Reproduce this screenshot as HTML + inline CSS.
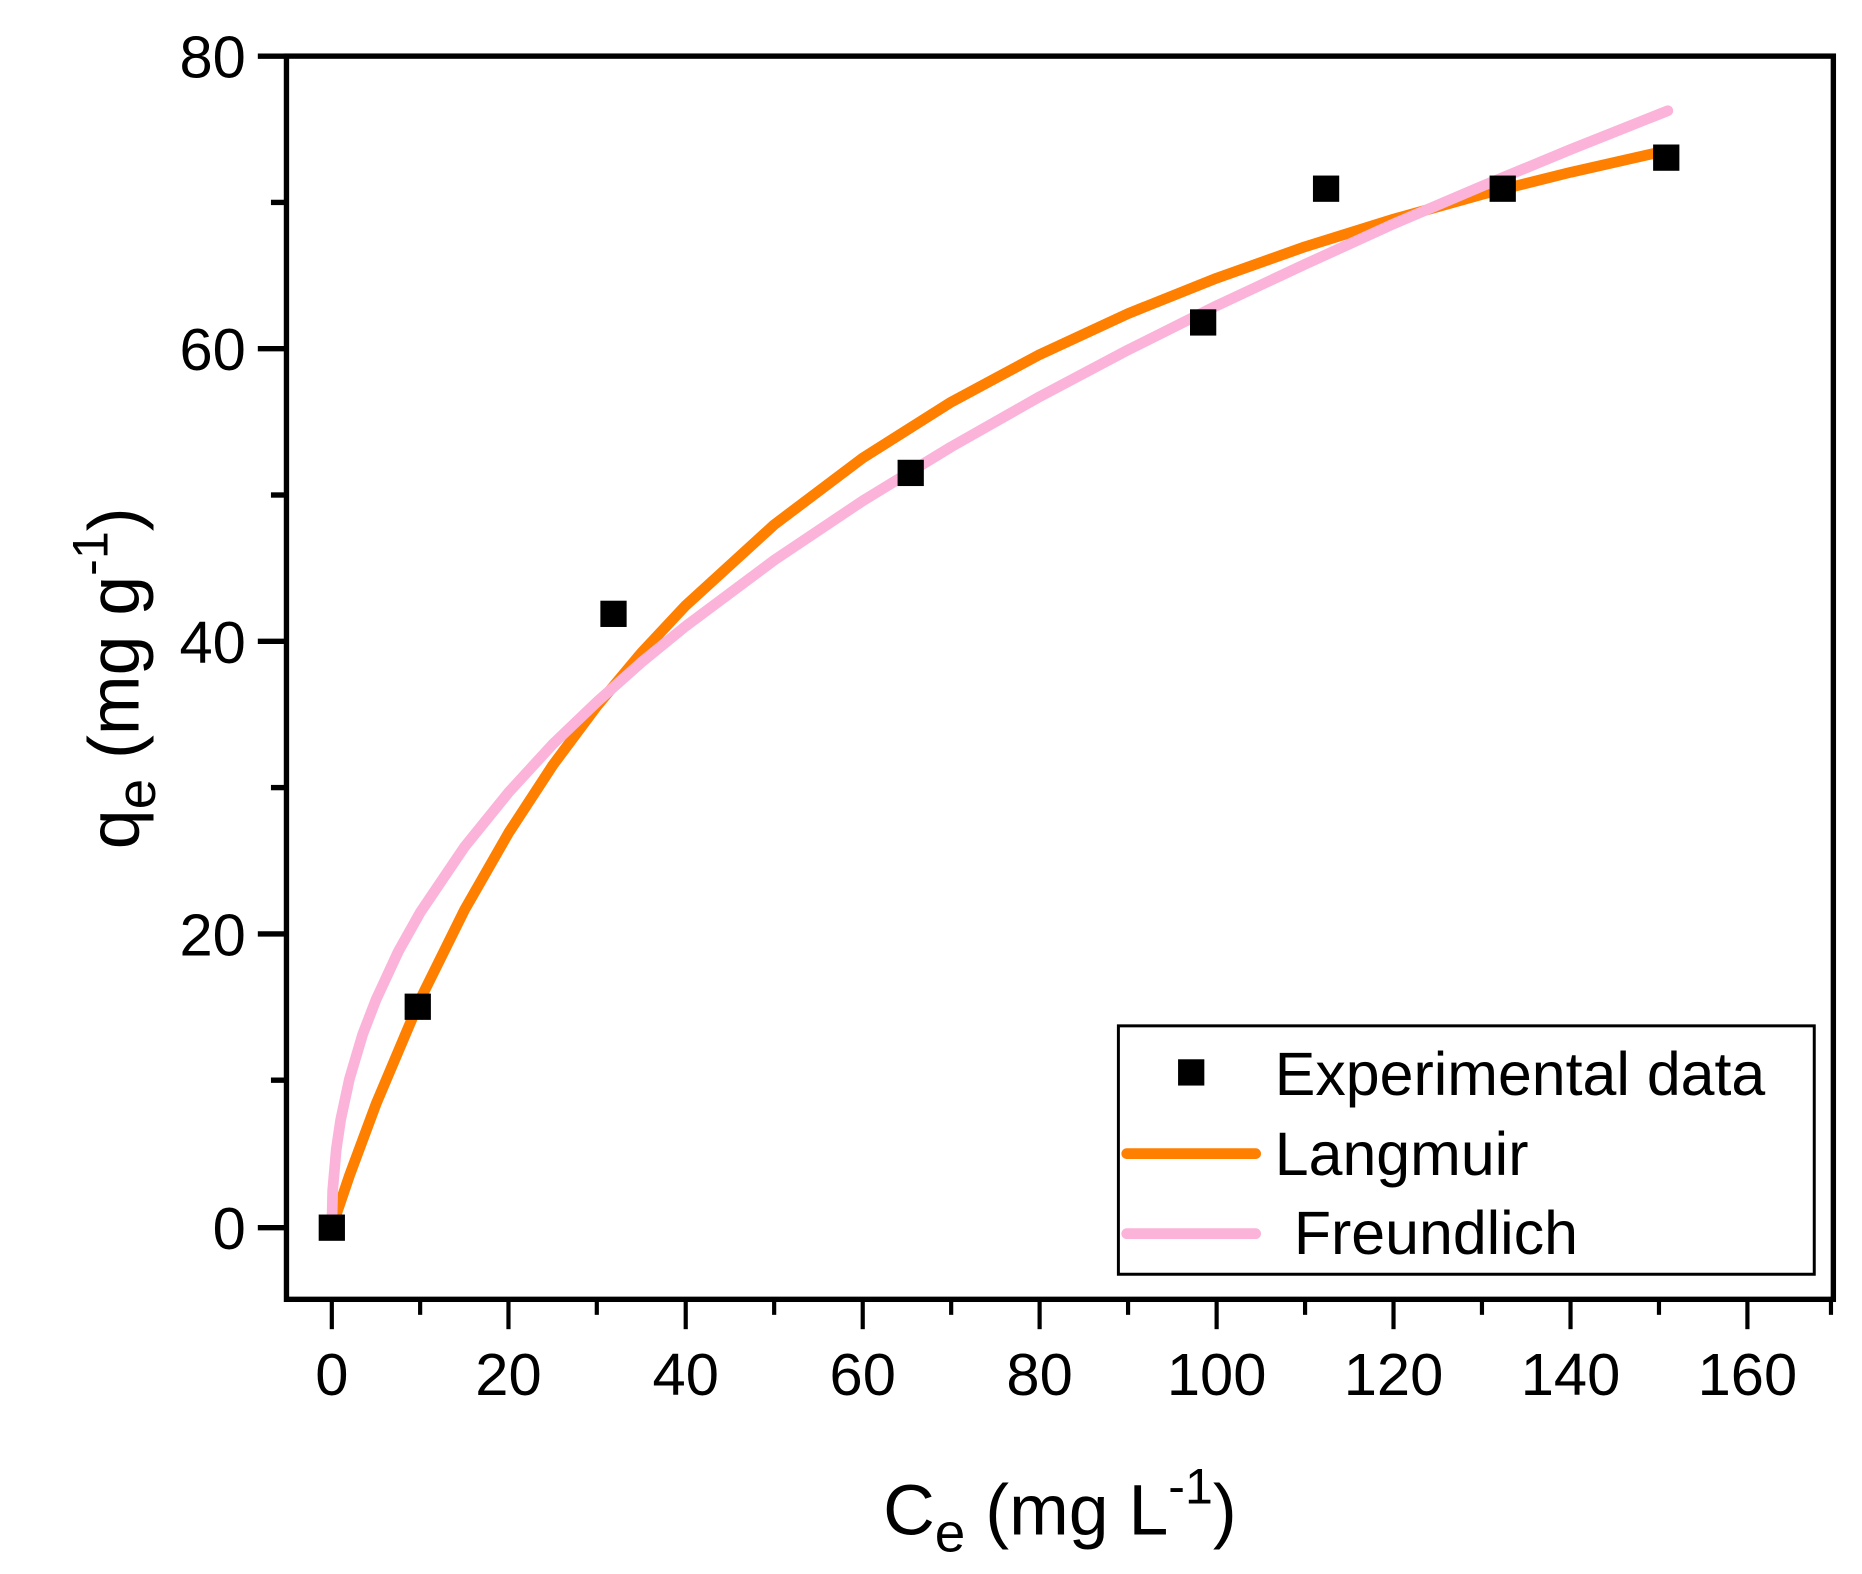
<!DOCTYPE html>
<html><head><style>html,body{margin:0;padding:0;background:#fff;}svg{display:block}</style></head>
<body>
<svg width="1862" height="1574" viewBox="0 0 1560 1318" preserveAspectRatio="none" xmlns="http://www.w3.org/2000/svg" font-family="Liberation Sans, Arial, sans-serif">
<rect x="0" y="0" width="1560" height="1318" fill="#fff"/>
<polyline fill="none" stroke="#FF7F00" stroke-width="9" stroke-linecap="round" stroke-linejoin="round" points="278,1028 292.8,984.3 315.1,924.3 352.1,836.8 389.2,761.9 426.3,697.1 463.3,640.5 500.4,590.8 537.5,546.5 574.5,507 648.6,439.4 722.8,383.5 796.9,336.7 871,296.9 945.1,262.6 1019.3,232.9 1093.4,206.6 1167.5,183.5 1241.6,162.8 1315.8,144.3 1397.3,125.9"/>
<polyline fill="none" stroke="#FBB3DA" stroke-width="9" stroke-linecap="round" stroke-linejoin="round" points="278,1028 278.7,997.1 281.7,962.6 285.4,937.7 292.8,903.3 303.9,866 315.1,836.9 333.6,797 352.1,764 389.2,709.1 426.3,663.3 463.3,623 500.4,587.5 537.5,554.5 574.5,524.3 648.6,469.1 722.8,419.4 796.9,374.2 871,332.2 945.1,293 1019.3,256 1093.4,221.3 1167.5,187.5 1241.6,155.9 1315.8,125.2 1397.3,92.7"/>
<g fill="#000">
<rect x="267" y="1017" width="22" height="22"/>
<rect x="339" y="832" width="22" height="22"/>
<rect x="503" y="503" width="22" height="22"/>
<rect x="752" y="385" width="22" height="22"/>
<rect x="997" y="259" width="22" height="22"/>
<rect x="1100" y="147" width="22" height="22"/>
<rect x="1248" y="147" width="22" height="22"/>
<rect x="1385" y="121" width="22" height="22"/>
</g>
<rect x="240" y="47" width="1296" height="1041" fill="none" stroke="#000" stroke-width="4.5"/>
<g stroke="#000" stroke-width="4.5">
<line x1="216" y1="47" x2="240" y2="47"/><line x1="227" y1="169.5" x2="240" y2="169.5"/>
<line x1="216" y1="292" x2="240" y2="292"/><line x1="227" y1="414.5" x2="240" y2="414.5"/>
<line x1="216" y1="537" x2="240" y2="537"/><line x1="227" y1="659.5" x2="240" y2="659.5"/>
<line x1="216" y1="782" x2="240" y2="782"/><line x1="227" y1="904.5" x2="240" y2="904.5"/>
<line x1="216" y1="1028" x2="240" y2="1028"/>
</g>
<g stroke="#000" stroke-width="3.5">
<line x1="278" y1="1088" x2="278" y2="1113"/><line x1="352" y1="1088" x2="352" y2="1101"/>
<line x1="426" y1="1088" x2="426" y2="1113"/><line x1="500" y1="1088" x2="500" y2="1101"/>
<line x1="574.5" y1="1088" x2="574.5" y2="1113"/><line x1="648.6" y1="1088" x2="648.6" y2="1101"/>
<line x1="722.8" y1="1088" x2="722.8" y2="1113"/><line x1="796.9" y1="1088" x2="796.9" y2="1101"/>
<line x1="871" y1="1088" x2="871" y2="1113"/><line x1="945.1" y1="1088" x2="945.1" y2="1101"/>
<line x1="1019.3" y1="1088" x2="1019.3" y2="1113"/><line x1="1093.4" y1="1088" x2="1093.4" y2="1101"/>
<line x1="1167.5" y1="1088" x2="1167.5" y2="1113"/><line x1="1241.6" y1="1088" x2="1241.6" y2="1101"/>
<line x1="1315.8" y1="1088" x2="1315.8" y2="1113"/><line x1="1389.9" y1="1088" x2="1389.9" y2="1101"/>
<line x1="1464" y1="1088" x2="1464" y2="1113"/><line x1="1534" y1="1088" x2="1534" y2="1101"/>
</g>
<g font-size="50" text-anchor="end">
<text x="206" y="65">80</text><text x="206" y="310">60</text><text x="206" y="555">40</text>
<text x="206" y="800">20</text><text x="206" y="1046">0</text>
</g>
<g font-size="50" text-anchor="middle">
<text x="278" y="1168">0</text><text x="426" y="1168">20</text><text x="574.5" y="1168">40</text>
<text x="722.8" y="1168">60</text><text x="871" y="1168">80</text><text x="1019.3" y="1168">100</text>
<text x="1167.5" y="1168">120</text><text x="1315.8" y="1168">140</text><text x="1464" y="1168">160</text>
</g>
<text x="888" y="1285" font-size="60" text-anchor="middle">C<tspan font-size="46" dy="14">e</tspan><tspan dy="-14"> (mg L</tspan><tspan font-size="42" dy="-26">-1</tspan><tspan dy="26">)</tspan></text>
<text transform="translate(116,568) rotate(-90)" font-size="60" text-anchor="middle">q<tspan font-size="46" dy="14">e</tspan><tspan dy="-14"> (mg g</tspan><tspan font-size="42" dy="-26">-1</tspan><tspan dy="26">)</tspan></text>
<rect x="937" y="859" width="583" height="208" fill="#fff" stroke="#000" stroke-width="2.5"/>
<rect x="987" y="887" width="22" height="22" fill="#000"/>
<text x="1068" y="917" font-size="51">Experimental data</text>
<line x1="944" y1="966" x2="1052" y2="966" stroke="#FF7F00" stroke-width="9" stroke-linecap="round"/>
<text x="1068" y="984" font-size="51">Langmuir</text>
<line x1="944" y1="1033" x2="1052" y2="1033" stroke="#FBB3DA" stroke-width="9" stroke-linecap="round"/>
<text x="1084" y="1050" font-size="51">Freundlich</text>
</svg>
</body></html>
